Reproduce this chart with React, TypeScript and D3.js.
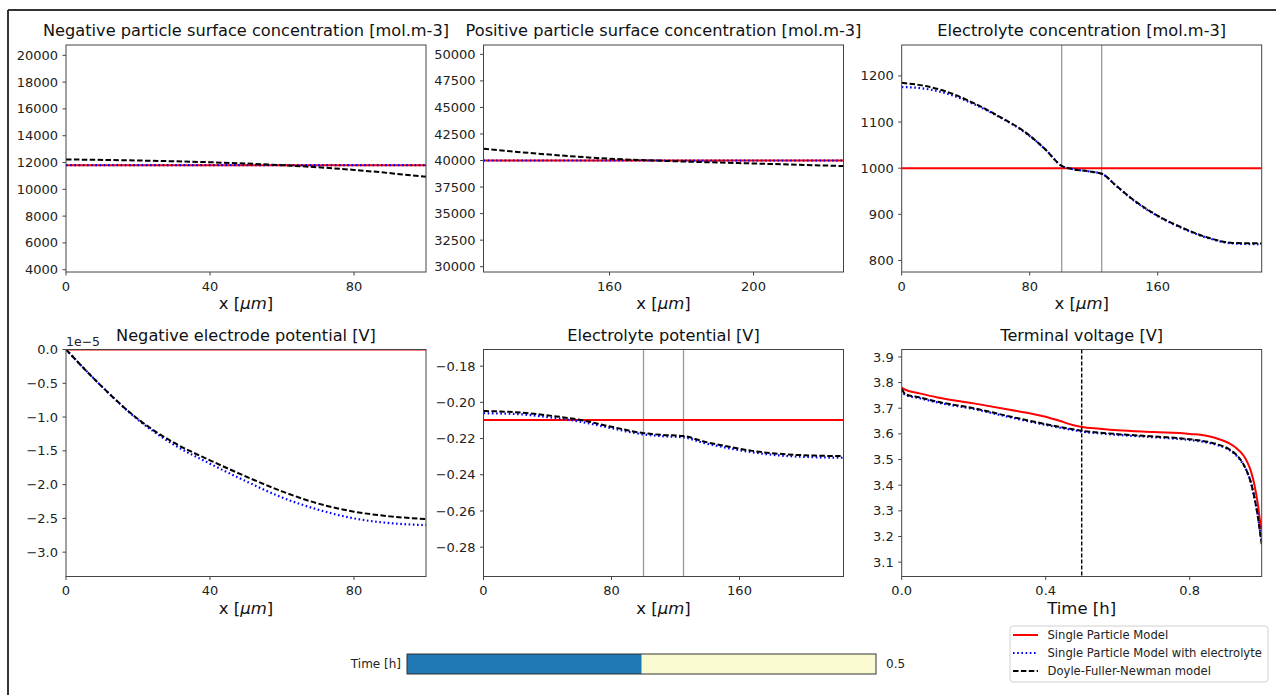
import React from 'react'
import * as d3 from 'd3'

// negative particle surface concentration, x in um
const negX = [0, 20, 40, 60, 80, 100]
const negCsSpm = [11800, 11800, 11800, 11800, 11800, 11800]
const negCsSpme = [11800, 11800, 11800, 11800, 11800, 11800]
const negCsDfn = [12230, 12150, 12020, 11800, 11450, 10930]

// positive particle surface concentration
const posX = [125, 140, 160, 175, 200, 225]
const posCsSpm = [40000, 40000, 40000, 40000, 40000, 40000]
const posCsSpme = [40000, 40000, 40000, 40000, 40000, 40000]
const posCsDfn = [41100, 40650, 40170, 39970, 39720, 39480]

// electrolyte concentration
const elX = [0, 15, 28, 45, 61, 78, 90, 100, 107, 117, 125, 134, 145, 159, 174, 191, 207, 225]
const ceSpm = [1000, 1000, 1000, 1000, 1000, 1000, 1000, 1000, 1000, 1000, 1000, 1000, 1000, 1000, 1000, 1000, 1000, 1000]
const ceSpme = [1176, 1172, 1162, 1139, 1111, 1075, 1040, 1005, 998, 993, 988, 962, 930, 898, 872, 849, 837, 835]
const ceDfn = [1185, 1178, 1166, 1141, 1112, 1076, 1040, 1005, 998, 993, 988, 962, 931, 899, 873, 850, 838, 837]

// negative electrode potential (x 1e-5 V)
const phiX = [0, 10, 20, 30, 40, 50, 60, 70, 80, 90, 100]
const phiSpm = [0, 0, 0, 0, 0, 0, 0, 0, 0, 0, 0]
const phiSpme = [0, -0.55, -1.04, -1.41, -1.69, -1.95, -2.19, -2.37, -2.50, -2.57, -2.60]
const phiDfn = [0, -0.55, -1.03, -1.38, -1.64, -1.88, -2.10, -2.28, -2.40, -2.47, -2.51]

// electrolyte potential
const epX = [0, 23, 44, 60, 79, 100, 112, 125, 137, 152, 168, 189, 207, 225]
const epSpm = [-0.2098, -0.2098, -0.2098, -0.2098, -0.2098, -0.2098, -0.2098, -0.2098, -0.2098, -0.2098, -0.2098, -0.2098, -0.2098, -0.2098]
const epSpme = [-0.2060, -0.2066, -0.2086, -0.2106, -0.2141, -0.2177, -0.2187, -0.2193, -0.2223, -0.2251, -0.2276, -0.2296, -0.2303, -0.2306]
const epDfn = [-0.2048, -0.2056, -0.2076, -0.2096, -0.2133, -0.2170, -0.2180, -0.2186, -0.2215, -0.2243, -0.2268, -0.2287, -0.2294, -0.2297]

// terminal voltage
const time = [0, 0.01, 0.05, 0.1, 0.2, 0.3, 0.4, 0.44, 0.48, 0.5, 0.55, 0.6, 0.7, 0.8, 0.85, 0.88, 0.91, 0.93, 0.95, 0.96, 0.97, 0.98, 0.99, 0.995, 1.0]
const vSpm = [3.78, 3.772, 3.758, 3.742, 3.719, 3.694, 3.667, 3.650, 3.633, 3.627, 3.620, 3.614, 3.607, 3.600, 3.592, 3.580, 3.563, 3.544, 3.515, 3.490, 3.455, 3.400, 3.320, 3.265, 3.225]
const vSpme = [3.772, 3.752, 3.739, 3.722, 3.697, 3.665, 3.635, 3.624, 3.614, 3.609, 3.602, 3.596, 3.587, 3.576, 3.566, 3.555, 3.537, 3.515, 3.478, 3.450, 3.410, 3.350, 3.275, 3.225, 3.180]
const vDfn = [3.775, 3.755, 3.742, 3.725, 3.700, 3.668, 3.638, 3.627, 3.617, 3.612, 3.605, 3.599, 3.590, 3.579, 3.569, 3.558, 3.540, 3.518, 3.480, 3.450, 3.410, 3.350, 3.270, 3.220, 3.170]

const currentTime = 0.5
const separator = [100, 125]
const legendNames = ['Single Particle Model', 'Single Particle Model with electrolyte', 'Doyle-Fuller-Newman model']

const FONT = 'DejaVu Sans, Verdana, sans-serif'
const W = 360
const H = 227
const colLeft = [66, 483.5, 901.7]
const rowTop = [45, 349.5]
const TICK_FS = 13

const styles: any = {
  spm: { stroke: '#ff0000', dash: null, width: 2 },
  spme: { stroke: '#0000ff', dash: '1.6,2.6', width: 2.2 },
  dfn: { stroke: '#000000', dash: '5.5,2.4', width: 2 },
}

function Panel(props: any) {
  const { id, left, top, title, xDomain, yDomain, xTicks, yTicks, yFmt, xFmt, xLabel, series, vlines, marker, offsetText } = props
  const x = d3.scaleLinear().domain(xDomain).range([0, W])
  const y = d3.scaleLinear().domain(yDomain).range([H, 0])
  const line = d3.line<[number, number]>().x(d => x(d[0])).y(d => y(d[1])).curve(d3.curveMonotoneX)
  return (
    <g transform={`translate(${left},${top})`}>
      <defs>
        <clipPath id={id}><rect x={0} y={0} width={W} height={H} /></clipPath>
      </defs>
      <text x={W / 2} y={-9} textAnchor="middle" fontSize={16.2} fill="#111">{title}</text>
      <g clipPath={`url(#${id})`}>
        {(vlines || []).map((v: number) => (
          <line key={v} x1={x(v)} x2={x(v)} y1={0} y2={H} stroke="#999" strokeWidth={1.3} />
        ))}
        {series.map((s: any, i: number) => {
          const st = styles[s.kind]
          const pts: [number, number][] = s.x.map((xv: number, j: number) => [xv, s.y[j]])
          return <path key={i} d={line(pts) || ''} fill="none" stroke={st.stroke} strokeWidth={st.width}
            strokeDasharray={st.dash || undefined} />
        })}
        {marker !== undefined && (
          <line x1={x(marker)} x2={x(marker)} y1={0} y2={H} stroke="#000" strokeWidth={1.4} strokeDasharray="4,2" />
        )}
      </g>
      <rect x={0} y={0} width={W} height={H} fill="none" stroke="#444" strokeWidth={1} />
      {yTicks.map((t: number) => (
        <g key={'y' + t} transform={`translate(0,${y(t)})`}>
          <line x1={-3.5} x2={0} stroke="#444" />
          <text x={-8} dy="0.35em" textAnchor="end" fontSize={TICK_FS} fill="#222">{yFmt(t)}</text>
        </g>
      ))}
      {xTicks.map((t: number) => (
        <g key={'x' + t} transform={`translate(${x(t)},${H})`}>
          <line y1={0} y2={3.5} stroke="#444" />
          <text y={18.5} textAnchor="middle" fontSize={TICK_FS} fill="#222">{xFmt(t)}</text>
        </g>
      ))}
      {xLabel === 'x' ? (
        <text x={W / 2} y={H + 37} textAnchor="middle" fontSize={16.5} fill="#111">
          x [<tspan fontStyle="italic">μm</tspan>]
        </text>
      ) : (
        <text x={W / 2} y={H + 37} textAnchor="middle" fontSize={16.5} fill="#111">{xLabel}</text>
      )}
      {offsetText && <text x={0} y={-4} fontSize={12.5} fill="#222">{offsetText}</text>}
    </g>
  )
}

function trio(xs: number[], a: number[], b: number[], c: number[]) {
  return [
    { kind: 'spm', x: xs, y: a },
    { kind: 'spme', x: xs, y: b },
    { kind: 'dfn', x: xs, y: c },
  ]
}

export default function App() {
  const intFmt = d3.format('d')
  const slider = d3.scaleLinear().domain([0, 1]).range([407, 876])
  const legendY = d3.scalePoint<string>().domain(legendNames).range([635, 671])
  return (
    <svg width={1276} height={695} style={{ position: 'absolute', left: 0, top: 0, fontFamily: FONT, background: '#fff' }}>
      <rect x={0} y={0} width={1276} height={695} fill="#fff" />
      <line x1={8} x2={1276} y1={10} y2={10} stroke="#333" strokeWidth={2} />
      <line x1={8} x2={8} y1={10} y2={695} stroke="#333" strokeWidth={2} />

      <Panel id="p1" left={colLeft[0]} top={rowTop[0]} title="Negative particle surface concentration [mol.m-3]"
        xDomain={[0, 100]} yDomain={[3830, 20770]} xTicks={[0, 40, 80]} yTicks={d3.range(4000, 20001, 2000)}
        xFmt={intFmt} yFmt={intFmt} xLabel="x" series={trio(negX, negCsSpm, negCsSpme, negCsDfn)} />
      <Panel id="p2" left={colLeft[1]} top={rowTop[0]} title="Positive particle surface concentration [mol.m-3]"
        xDomain={[125, 225]} yDomain={[29500, 50880]} xTicks={[160, 200]} yTicks={d3.range(30000, 50001, 2500)}
        xFmt={intFmt} yFmt={intFmt} xLabel="x" series={trio(posX, posCsSpm, posCsSpme, posCsDfn)} />
      <Panel id="p3" left={colLeft[2]} top={rowTop[0]} title="Electrolyte concentration [mol.m-3]"
        xDomain={[0, 225]} yDomain={[775, 1267]} xTicks={[0, 80, 160]} yTicks={d3.range(800, 1201, 100)}
        xFmt={intFmt} yFmt={intFmt} xLabel="x" vlines={separator} series={trio(elX, ceSpm, ceSpme, ceDfn)} />

      <Panel id="p4" left={colLeft[0]} top={rowTop[1]} title="Negative electrode potential [V]"
        xDomain={[0, 100]} yDomain={[-3.36, 0]} xTicks={[0, 40, 80]} yTicks={[0, -0.5, -1, -1.5, -2, -2.5, -3]}
        xFmt={intFmt} yFmt={d3.format('.1f')} xLabel="x" offsetText="1e−5" series={trio(phiX, phiSpm, phiSpme, phiDfn)} />
      <Panel id="p5" left={colLeft[1]} top={rowTop[1]} title="Electrolyte potential [V]"
        xDomain={[0, 225]} yDomain={[-0.2962, -0.1708]} xTicks={[0, 80, 160]} yTicks={[-0.18, -0.2, -0.22, -0.24, -0.26, -0.28]}
        xFmt={intFmt} yFmt={d3.format('.2f')} xLabel="x" vlines={separator} series={trio(epX, epSpm, epSpme, epDfn)} />
      <Panel id="p6" left={colLeft[2]} top={rowTop[1]} title="Terminal voltage [V]"
        xDomain={[0, 1.0]} yDomain={[3.044, 3.929]} xTicks={[0, 0.4, 0.8]} yTicks={d3.range(3.1, 3.95, 0.1)}
        xFmt={d3.format('.1f')} yFmt={d3.format('.1f')} xLabel="Time [h]" marker={currentTime}
        series={trio(time, vSpm, vSpme, vDfn)} />

      {/* time slider */}
      <text x={401} y={664} dy="0.35em" textAnchor="end" fontSize={12} fill="#222">Time [h]</text>
      <rect x={slider(0)} y={654} width={slider(1) - slider(0)} height={20} fill="#fafad2" />
      <rect x={slider(0)} y={654} width={slider(currentTime) - slider(0)} height={20} fill="#1f77b4" />
      <rect x={slider(0)} y={654} width={slider(1) - slider(0)} height={20} fill="none" stroke="#333" strokeWidth={1} />
      <text x={886} y={664} dy="0.35em" fontSize={12} fill="#222">{d3.format('.1f')(currentTime)}</text>

      {/* legend */}
      <rect x={1010} y={626} width={258} height={56} rx={3} fill="#fff" stroke="#d0d0d0" strokeWidth={1} />
      {legendNames.map((n, i) => {
        const st = styles[['spm', 'spme', 'dfn'][i]]
        const yy = legendY(n) as number
        return (
          <g key={n}>
            <line x1={1013} x2={1038} y1={yy} y2={yy} stroke={st.stroke} strokeWidth={st.width} strokeDasharray={st.dash || undefined} />
            <text x={1047.5} y={yy} dy="0.35em" fontSize={11.6} fill="#222">{n}</text>
          </g>
        )
      })}
    </svg>
  )
}
